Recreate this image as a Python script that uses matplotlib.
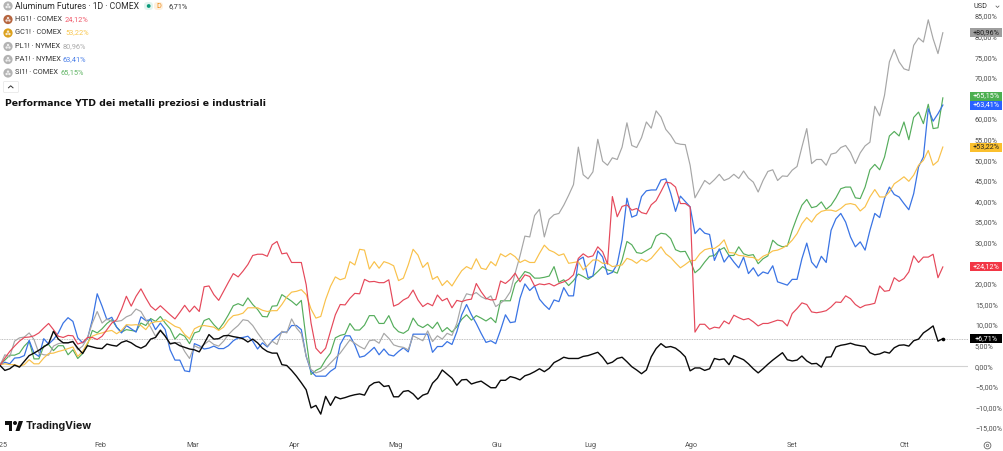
import matplotlib
matplotlib.use("Agg")
import matplotlib.pyplot as plt
from matplotlib.patches import Circle, Rectangle, Polygon, FancyBboxPatch
from matplotlib.ticker import FuncFormatter
import numpy as np

W, H = 1004, 451

# daily performance since the start of the year, in percent
aluminum = [0.2,-1.0,-0.6,0.3,-0.2,1.2,2.6,3.2,3.9,4.7,5.5,8.5,6.6,5.7,5.7,6.0,4.4,3.1,5.0,4.7,
    4.4,4.3,5.4,5.1,4.9,5.8,6.2,5.7,4.9,4.4,5.0,6.6,7.0,8.7,7.3,5.5,5.7,5.0,4.6,4.2,
    4.0,3.5,5.5,7.7,6.6,6.7,7.4,7.5,7.2,7.0,6.7,5.9,6.6,5.7,4.4,3.6,3.2,3.2,0.4,0.2,
    -1.0,-2.4,-4.0,-5.7,-10.1,-9.5,-11.6,-7.3,-9.5,-7.4,-7.9,
    -7.6,-7.2,-6.9,-6.7,-7.0,-4.8,-4.0,-3.8,-4.9,-4.7,-7.4,-7.4,-6.1,-5.9,-6.7,-8.0,-7.0,-6.6,-4.1,
    -2.9,-0.9,-1.9,-2.9,-4.6,-3.3,-3.2,-4.3,-3.9,-3.6,-4.4,-5.2,-5.2,-3.4,-3.4,-2.5,-2.8,-3.3,-2.3,-1.9,
    -1.3,-0.6,-1.3,-0.5,0.9,1.5,2.2,1.9,1.9,1.9,2.4,2.6,3.0,3.4,2.2,0.6,1.0,1.9,2.2,1.1,
    -0.1,-0.9,-1.8,-0.9,2.3,4.3,5.5,4.6,4.8,
    4.4,3.5,2.3,-1.1,-0.4,-0.4,-1.0,-0.6,1.9,1.6,1.8,0.4,2.6,2.1,1.6,0.6,-0.6,-1.6,
    -0.6,0.5,1.5,2.4,3.3,1.6,1.3,1.5,2.5,1.3,0.6,0.7,-0.2,2.2,2.3,4.7,5.1,5.3,5.6,5.2,
    5.0,4.8,3.3,2.8,3.0,3.5,3.2,4.5,5.1,5.2,4.9,6.2,6.6,8.1,8.9,9.8,6.1,6.71]

copper = [0.2,2.0,3.6,4.9,6.1,7.0,7.1,7.4,8.1,9.3,10.4,8.9,7.3,7.0,7.5,7.4,5.4,5.8,7.0,7.0,
    6.5,7.3,8.9,10.5,11.3,13.8,17.0,14.6,17.0,18.8,16.6,14.6,13.6,14.7,13.6,12.5,11.5,13.1,14.8,13.2,
    14.6,13.3,19.3,19.5,17.4,16.0,18.2,20.4,22.5,21.7,23.1,24.7,26.9,27.2,27.2,26.7,29.5,30.3,27.3,27.5,
    25.2,25.2,25.2,19.8,10.5,4.4,3.1,4.4,8.5,12.5,15.0,
    14.9,16.5,17.7,17.6,21.1,20.5,20.6,20.3,20.3,21.0,14.6,15.1,16.1,16.7,18.5,16.1,14.5,15.3,14.7,
    17.3,15.9,16.5,14.2,16.0,15.7,16.1,16.3,20.1,18.1,16.5,16.1,16.2,20.7,20.1,21.1,22.6,20.5,22.2,21.8,
    19.5,20.0,19.8,20.1,19.5,20.1,20.5,21.1,22.2,26.2,27.3,26.5,26.8,29.0,27.8,24.8,41.2,36.3,38.8,39.2,
    37.9,38.3,37.3,37.0,39.2,40.2,42.4,44.7,44.5,
    43.5,39.5,39.5,38.7,8.3,10.2,10.2,9.0,9.5,9.3,11.0,10.3,12.4,11.8,11.3,11.6,10.8,9.8,
    10.4,10.4,10.8,11.2,11.0,9.8,12.8,14.0,15.4,15.0,13.2,13.0,13.2,13.5,14.4,15.6,15.5,17.1,16.4,15.0,
    14.2,14.8,15.0,15.3,19.5,18.2,18.4,21.5,20.6,21.3,22.9,26.8,25.2,26.5,26.5,27.2,21.5,24.12]

gold = [0.4,0.6,0.4,0.4,0.0,0.4,1.6,0.6,0.6,2.0,3.1,3.2,3.6,3.9,4.3,4.7,2.4,3.6,5.7,7.3,
    7.8,8.1,8.5,8.7,7.9,8.7,10.1,10.0,10.1,9.9,8.9,10.5,10.8,10.9,11.3,10.5,9.7,9.3,7.7,6.7,
    9.1,9.7,9.9,9.7,9.5,8.7,9.5,11.2,12.3,12.5,12.9,14.2,14.2,14.2,13.6,13.3,13.5,13.5,15.0,16.8,
    18.0,18.2,18.6,17.4,13.9,11.7,12.1,16.2,19.4,21.7,21.0,
    21.4,25.4,24.6,28.4,28.2,23.6,25.4,23.8,25.4,25.0,24.4,20.8,21.4,24.6,28.4,27.0,24.0,25.2,21.1,
    21.8,19.6,20.8,19.5,21.4,23.2,24.2,23.6,26.1,23.8,23.5,25.4,24.4,27.3,26.6,27.4,26.6,25.2,25.8,25.2,
    25.2,27.4,29.4,28.2,27.7,26.9,27.3,25.0,25.2,25.4,23.4,24.6,25.8,25.8,25.0,25.0,24.2,24.4,24.6,26.2,
    25.8,25.0,26.0,25.4,26.2,27.6,29.0,27.3,26.4,
    25.1,23.9,24.7,25.6,25.7,27.3,28.3,28.6,28.6,29.4,30.7,27.6,27.5,26.9,26.8,26.5,26.4,25.7,
    26.7,27.2,28.0,28.2,28.7,29.4,30.6,32.2,34.6,36.1,35.0,36.7,37.6,37.9,37.9,37.6,38.3,39.3,39.5,39.2,
    37.7,38.7,41.1,42.9,41.1,41.1,42.3,44.3,45.1,46.0,44.9,46.4,48.8,50.0,52.4,48.8,49.8,53.22]

platinum = [0.2,2.8,2.3,6.1,6.9,7.1,8.1,6.5,3.2,2.8,2.7,4.9,5.5,5.7,5.7,6.1,4.0,4.9,6.9,10.5,
    13.3,10.5,11.5,10.9,10.9,11.1,12.0,12.5,13.9,13.3,11.3,9.5,7.3,8.9,7.3,5.3,5.7,5.8,3.6,1.9,
    5.0,4.4,5.3,6.2,5.3,4.9,6.1,7.7,8.9,9.9,11.3,11.1,9.9,8.1,6.5,4.9,6.1,5.3,8.5,8.1,
    11.5,9.3,7.9,2.4,-0.8,-1.6,-1.2,-0.4,0.8,2.0,3.2,
    4.8,6.4,5.6,4.8,4.2,6.2,6.4,5.6,8.0,6.8,5.2,4.8,4.6,4.0,7.4,6.8,6.2,8.6,6.0,
    7.4,6.6,8.0,7.5,10.4,15.3,17.6,17.3,17.9,16.9,16.3,17.1,14.5,15.3,16.3,18.1,22.6,26.8,31.6,31.4,
    36.6,38.1,31.4,35.7,36.8,37.1,39.1,41.5,44.1,53.2,46.5,45.5,47.2,55.1,49.8,48.8,50.6,50.2,53.2,59.1,
    53.6,53.1,55.5,59.3,57.8,62.0,60.5,57.5,56.1,
    54.2,53.9,53.8,48.8,40.9,43.0,45.1,44.2,45.3,46.6,45.1,45.6,46.6,45.6,47.4,45.7,44.7,42.3,
    45.1,47.3,47.7,45.1,46.2,46.1,47.6,48.5,53.2,57.7,49.2,50.2,50.2,48.8,51.5,51.8,53.1,53.6,51.9,49.2,
    51.8,53.5,54.4,63.1,60.8,65.8,73.9,76.9,73.9,72.2,71.8,77.9,79.7,78.7,84.1,79.5,75.9,80.96]

palladium = [0.2,1.0,0.6,2.0,2.1,2.6,6.3,3.2,2.4,6.7,5.4,6.5,8.1,10.5,11.8,10.9,6.9,5.7,6.7,11.3,
    17.6,14.6,11.3,11.9,9.5,8.1,9.9,9.1,8.3,12.0,11.1,11.3,8.9,10.5,8.9,4.0,1.5,1.5,-1.1,-1.3,
    5.5,5.0,4.2,4.4,4.9,4.3,4.3,5.0,6.2,6.9,7.0,7.3,6.1,4.2,5.7,4.7,6.2,7.3,8.3,8.3,
    9.9,9.9,8.9,2.4,-1.2,-2.4,-2.4,-2.4,-1.2,-0.4,5.3,
    7.4,7.4,5.2,2.2,2.5,3.5,4.6,2.8,4.2,2.8,2.5,3.6,4.5,3.5,7.8,7.8,7.8,7.8,3.4,
    4.8,4.8,6.0,5.3,8.4,12.5,15.0,12.5,10.4,8.0,5.8,6.2,5.5,8.8,12.5,10.6,10.8,16.5,20.0,18.4,
    19.5,16.3,14.9,13.8,16.1,15.7,19.1,17.1,17.1,25.8,26.5,21.5,21.9,28.0,26.5,22.3,22.8,24.8,30.7,40.8,
    36.2,36.7,41.2,42.6,42.8,42.8,45.2,45.5,42.0,
    37.6,41.3,40.0,38.7,32.2,33.5,32.3,32.0,25.7,28.5,25.3,26.9,25.3,23.9,26.5,22.5,23.9,21.9,
    22.9,22.5,24.4,20.5,20.1,19.7,21.1,21.1,26.1,29.9,25.3,23.9,26.7,25.2,33.0,35.8,37.1,35.0,31.4,29.0,
    30.2,28.2,33.0,37.1,36.1,40.7,43.5,41.7,41.1,39.5,38.0,41.9,48.4,50.8,62.5,59.5,61.3,63.41]

silver = [0.6,1.5,2.7,2.7,3.2,4.9,6.1,1.8,1.8,4.9,5.3,3.8,5.0,5.0,2.8,4.0,1.9,3.1,5.3,8.7,
    8.1,9.1,10.4,11.3,9.5,8.3,8.9,8.7,8.5,10.5,9.9,11.6,10.9,12.1,10.5,9.1,6.6,7.9,7.3,5.5,
    8.1,8.5,11.1,11.6,10.1,8.9,10.5,12.5,14.7,15.2,14.7,16.6,15.0,13.8,12.1,12.0,14.6,14.7,17.4,16.6,
    15.8,14.8,16.0,6.5,-2.0,-1.0,-0.4,1.6,3.2,6.9,7.5,
    7.8,10.4,8.8,8.8,10.0,12.3,12.3,10.4,10.4,12.3,9.6,8.4,8.0,8.8,11.7,10.0,9.4,10.2,9.2,
    10.7,8.4,9.4,8.3,9.6,11.4,12.5,11.2,12.3,11.7,11.0,11.8,10.6,15.9,15.9,15.9,20.1,21.4,23.0,22.6,
    21.4,21.4,21.6,21.9,24.2,20.4,21.0,19.6,20.8,22.4,21.8,21.1,21.9,23.0,24.2,23.4,23.1,22.6,25.8,30.3,
    29.5,27.6,27.4,28.1,28.8,31.6,32.3,32.1,31.0,
    28.3,27.8,27.9,25.7,22.7,23.7,25.3,26.7,26.9,28.2,28.8,26.9,26.9,29.0,27.3,26.9,27.1,24.9,
    26.1,26.8,30.6,29.5,29.0,29.2,33.0,36.2,39.1,40.5,38.5,38.8,39.9,38.1,39.1,40.9,43.1,43.5,43.5,40.9,
    40.7,43.5,47.7,49.0,47.7,50.8,55.9,57.0,55.9,59.3,55.0,60.4,61.7,58.9,63.6,57.7,57.9,65.15]

month_days = [0, 20.7, 39.7, 60.7, 81.3, 102.3, 121.4, 142.2, 163, 186]
month_labels = ["2025", "Feb", "Mar", "Apr", "Mag", "Giu", "Lug", "Ago", "Set", "Ott"]
y_ticks = list(range(-15, 90, 5))

RED = "#e5485a"
GOLD = "#f9c14a"
GREY = "#a6a6a6"
BLUE = "#3a74e4"
GREEN = "#55ad5c"

px_per_day = 4.86
px_per_pct = 4.12
zero_px = 366.3
plot_w, plot_h = 968, 437

FONT = "Roboto"
SMALL = 5.2


def pct_to_px(v):
    return zero_px - px_per_pct * v


def comma(v, pos=None):
    s = f"{abs(v):.2f}".replace(".", ",") + "%"
    return ("\u2212" + s) if v < 0 else s


fig = plt.figure(figsize=(W / 100, H / 100), dpi=100, facecolor="white")
ax = fig.add_axes([0, 1 - plot_h / H, plot_w / W, plot_h / H])
ax.set_xlim(0, plot_w / px_per_day)
ax.set_ylim((zero_px - plot_h) / px_per_pct, zero_px / px_per_pct)
for s in ax.spines.values():
    s.set_visible(False)

ax.axhline(0, color="#d2d2d2", lw=0.8, zorder=1)
ax.axhline(aluminum[-1], color="#ababab", lw=0.6, ls=(0, (1, 1)), zorder=1)

series = [(silver, GREEN, 0.85), (palladium, BLUE, 0.9), (platinum, GREY, 0.85),
          (gold, GOLD, 0.85), (copper, RED, 0.85), (aluminum, "#0a0a0a", 1.0)]
for vals, col, lw in series:
    ax.plot(np.arange(len(vals)), vals, color=col, lw=lw, solid_joinstyle="round", zorder=3)
ax.plot(len(aluminum) - 1, aluminum[-1], "o", color="black", ms=2.6, mew=0, zorder=4)

ax.yaxis.tick_right()
ax.set_yticks(y_ticks)
ax.yaxis.set_major_formatter(FuncFormatter(comma))
ax.tick_params(axis="y", length=0, pad=5, labelsize=SMALL, labelcolor="#505050")
ax.set_xticks(month_days)
ax.set_xticklabels(month_labels)
ax.tick_params(axis="x", length=0, pad=3.5, labelsize=SMALL, labelcolor="#505050")
for t in ax.get_xticklabels() + ax.get_yticklabels():
    t.set_fontfamily(FONT)

# overlay in pixel coordinates for the chrome around the plot
ov = fig.add_axes([0, 0, 1, 1], facecolor="none")
ov.set_xlim(0, W)
ov.set_ylim(H, 0)
ov.axis("off")


def badge(value, color, text_color, nudge=0):
    y = pct_to_px(value) + nudge
    ov.add_patch(Rectangle((970.5, y - 4.5), 32, 9, color=color, lw=0, zorder=5))
    ov.text(986.5, y, "+" + comma(value), color=text_color, fontsize=SMALL, ha="center",
            va="center", family=FONT, zorder=6)


badge(platinum[-1], "#9e9e9e", "#222222")
badge(silver[-1], "#4caf50", "white", nudge=-1.8)
badge(palladium[-1], "#2962ff", "white")
badge(gold[-1], "#fbc02d", "#222222")
badge(copper[-1], "#f23645", "white")
badge(aluminum[-1], "black", "white")

# currency selector sits over the top of the scale
ov.add_patch(Rectangle((971, 0), 33, 13, color="white", lw=0, zorder=7))
ov.text(980.5, 6.5, "USD", fontsize=SMALL, color="#333333", family=FONT, ha="center", va="center", zorder=8)
ov.plot([996, 997.5, 999], [6, 7.5, 6], color="#555555", lw=0.5, zorder=8)


def legend_row(y, name, price, price_col, price_x, icon_col):
    ov.add_patch(Circle((8, y), 4.6, color=icon_col, lw=0))
    ov.add_patch(Circle((6.6, y + 1), 1.2, color="white", lw=0, alpha=0.8))
    ov.add_patch(Circle((9.4, y + 1), 1.2, color="white", lw=0, alpha=0.8))
    ov.add_patch(Circle((8, y - 1.4), 1.2, color="white", lw=0, alpha=0.8))
    ov.text(15.5, y, name, fontsize=5.3, color="#333333", family=FONT, va="center")
    ov.text(price_x, y, price, fontsize=5.3, color=price_col, family=FONT, va="center")


legend_row(19.5, "HG1! \u00b7 COMEX", comma(copper[-1]), "#f0596a", 65, "#b5653f")
legend_row(33, "GC1! \u00b7 COMEX", comma(gold[-1]), "#f9c74f", 65, "#dca11d")
legend_row(46.5, "PL1! \u00b7 NYMEX", comma(platinum[-1]), "#ababab", 63, "#b3b3b3")
legend_row(59.5, "PA1! \u00b7 NYMEX", comma(palladium[-1]), "#4a7fe8", 63, "#b3b3b3")
legend_row(73, "SI1! \u00b7 COMEX", comma(silver[-1]), "#62b566", 61, "#b3b3b3")

ov.add_patch(Circle((8, 6), 4.6, color="#b3b3b3", lw=0))
ov.add_patch(Circle((6.6, 7), 1.2, color="white", lw=0, alpha=0.8))
ov.add_patch(Circle((9.4, 7), 1.2, color="white", lw=0, alpha=0.8))
ov.add_patch(Circle((8, 4.6), 1.2, color="white", lw=0, alpha=0.8))
ov.text(15.5, 6.3, "Aluminum Futures \u00b7 1D \u00b7 COMEX", fontsize=6.2, color="#2a2a2a", family=FONT, va="center")
ov.add_patch(FancyBboxPatch((144, 2), 9, 8, boxstyle="round,pad=0,rounding_size=3.5", color="#e3f4ef", lw=0))
ov.add_patch(FancyBboxPatch((154, 2), 9, 8, boxstyle="round,pad=0,rounding_size=3.5", color="#fdf0df", lw=0))
ov.add_patch(Circle((148.7, 6), 1.9, color="#0b9a7a", lw=0))
ov.text(158.5, 6.2, "D", fontsize=5.3, color="#f08c1a", family=FONT, ha="center", va="center")
ov.text(169, 6.2, comma(aluminum[-1]), fontsize=5.3, color="#333333", family=FONT, va="center")

ov.add_patch(FancyBboxPatch((3.5, 81.5), 15, 11, boxstyle="round,pad=0,rounding_size=1",
                            facecolor="white", edgecolor="#e4e4e4", lw=0.5))
ov.plot([8.5, 10.7, 13], [87.8, 85.8, 87.8], color="#333333", lw=0.7)

ov.text(5, 103.5, "Performance YTD dei metalli preziosi e industriali", fontsize=6.65,
        fontweight="bold", color="#111111", family="DejaVu Sans", va="center")

# TradingView mark
ov.add_patch(Polygon([(5, 421), (12.5, 421), (12.5, 431), (8.6, 431), (8.6, 425), (5, 425)], color="#111111", lw=0))
ov.add_patch(Circle((15, 423), 2, color="#111111", lw=0))
ov.add_patch(Polygon([(15.5, 431), (19.5, 431), (23, 421), (18.8, 421)], color="#111111", lw=0))
ov.text(25.8, 426, "TradingView", fontsize=7.6, fontweight="bold", color="#1a1a1a", family="Inter", va="center")

# settings button
ov.add_patch(Circle((987.5, 445.5), 3.4, facecolor="none", edgecolor="#666666", lw=0.6))
ov.add_patch(Circle((987.5, 445.5), 1.2, facecolor="none", edgecolor="#666666", lw=0.5))

fig.savefig("out.png", dpi=100)
